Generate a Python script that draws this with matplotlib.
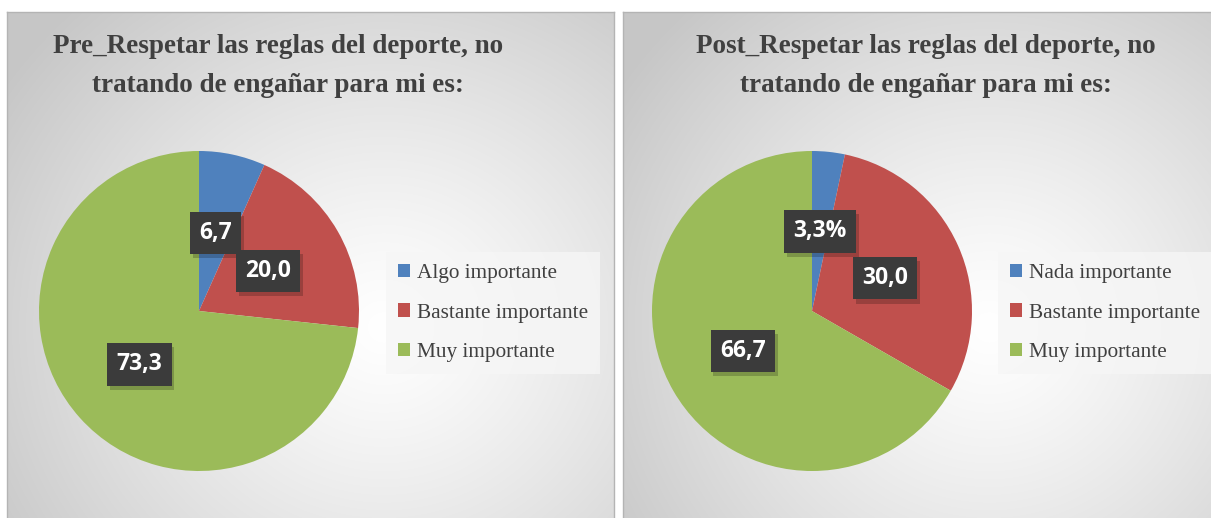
# -*- coding: utf-8 -*-
import matplotlib
matplotlib.use('Agg')
import matplotlib.pyplot as plt
import matplotlib.patheffects as pe
import numpy as np

W, H = 1211, 518

pre_title = "Pre_Respetar las reglas del deporte, no\ntratando de engañar para mi es:"
pre_names = ['Algo importante', 'Bastante importante', 'Muy importante']
pre_values = [6.7, 20.0, 73.3]
pre_labels = ['6,7', '20,0', '73,3']

post_title = "Post_Respetar las reglas del deporte, no\ntratando de engañar para mi es:"
post_names = ['Nada importante', 'Bastante importante', 'Muy importante']
post_values = [3.3, 30.0, 66.7]
post_labels = ['3,3%', '30,0', '66,7']

colors = ['#4F81BD', '#C0504D', '#9BBB59']


def fx(px):
    return px / W


def fy(py):
    return 1 - py / H


def panel(x0, x1, y0, y1):
    # radial gradient background, white centre to grey corners
    ax = fig.add_axes([fx(x0), fy(y1), fx(x1 - x0), (y1 - y0) / H])
    w, h = x1 - x0, y1 - y0
    xx, yy = np.meshgrid(np.arange(w), np.arange(h))
    cx, cy = w * 0.62, h * 0.62
    d = np.sqrt(((xx - cx) / (w * 0.75)) ** 2 + ((yy - cy) / (h * 0.85)) ** 2)
    d = np.clip(d, 0, 1)
    v = 1.0 - 0.22 * d ** 1.2
    img = np.dstack([v, v, v])
    ax.imshow(img, extent=[0, w, 0, h], aspect='auto', origin='upper')
    ax.set_xticks([])
    ax.set_yticks([])
    for s in ax.spines.values():
        s.set_color('#b4b4b4')
        s.set_linewidth(1.0)
    return ax


def draw_pie(cx, cy, r, values, labels, names, title, title_x, leg_x, leg_y):
    ax = fig.add_axes([fx(cx - r), fy(cy + r), fx(2 * r), 2 * r / H])
    it = iter(labels)
    wedges, texts, autotexts = ax.pie(values, colors=colors, startangle=90,
                                      counterclock=False, radius=1,
                                      autopct=lambda p: next(it), pctdistance=0.5,
                                      textprops=dict(color='white', fontsize=16.5,
                                                     fontweight='bold', family='Open Sans'))
    for t in autotexts:
        t.set_bbox(dict(boxstyle='square,pad=0.4', facecolor='#3b3b3b',
                        edgecolor='none'))
        t.get_bbox_patch().set_path_effects([
            pe.SimplePatchShadow(offset=(2, -3), shadow_rgbFace='#000000', alpha=0.2),
            pe.Normal()])
    ax.set_xlim(-1, 1)
    ax.set_ylim(-1, 1)
    ax.set_aspect('equal')
    ax.axis('off')

    fig.text(fx(title_x), fy(66), title, ha='center', va='center',
             fontsize=19.5, fontweight='bold', family='Liberation Serif',
             color='#404040', linespacing=1.75)

    leg = fig.legend(wedges, names, loc='center left',
                     bbox_to_anchor=(fx(leg_x), fy(leg_y)),
                     frameon=True, fancybox=False, handlelength=0.6,
                     handleheight=0.6, handletextpad=0.3, labelspacing=0.95,
                     borderpad=0.55, borderaxespad=0,
                     prop={'family': 'Liberation Serif', 'size': 15.3})
    leg.get_frame().set_facecolor('#f6f6f6')
    leg.get_frame().set_edgecolor('none')
    leg.get_frame().set_alpha(0.8)
    for t in leg.get_texts():
        t.set_color('#404040')


fig = plt.figure(figsize=(W / 100, H / 100), dpi=100)

panel(7, 614, 12, 520)
panel(623, 1213, 12, 520)

draw_pie(199, 311, 160, pre_values, pre_labels, pre_names, pre_title, 278, 386, 313)
draw_pie(812, 311, 160, post_values, post_labels, post_names, post_title, 926, 998, 313)

plt.savefig('out.png', dpi=100)
